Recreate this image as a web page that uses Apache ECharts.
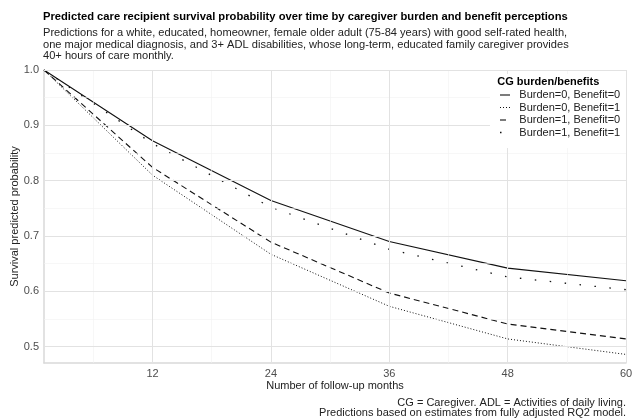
<!DOCTYPE html>
<html>
<head>
<meta charset="utf-8">
<script src="https://cdn.jsdelivr.net/npm/echarts@6/dist/echarts.min.js"></script>
<style>
  html, body { margin: 0; padding: 0; background: #fff; }
  #chart { width: 632px; height: 420px; }
</style>
</head>
<body>
<div id="chart"></div>
<script>
// follow-up months and predicted survival per group
const months = [1, 12, 24, 36, 48, 60];
const burden0Benefit0 = [1.0, 0.872, 0.764, 0.690, 0.642, 0.619];
const burden0Benefit1 = [1.0, 0.810, 0.667, 0.573, 0.514, 0.486];
const burden1Benefit0 = [1.0, 0.824, 0.689, 0.597, 0.541, 0.514];
const burden1Benefit1 = [1.0, 0.867, 0.752, 0.676, 0.626, 0.603];

const groupNames = ["Burden=0, Benefit=0", "Burden=0, Benefit=1", "Burden=1, Benefit=0", "Burden=1, Benefit=1"];

// tick labels and grid positions
const xTicks = [12, 24, 36, 48, 60];
const xMinor = [6, 18, 30, 42, 54];
const yTicks = [0.5, 0.6, 0.7, 0.8, 0.9, 1.0];
const yMinor = [0.55, 0.65, 0.75, 0.85, 0.95];

const font = "Liberation Sans, Arial, sans-serif";
const chart = echarts.init(document.getElementById("chart"));

const pairs = (ys) => months.map((m, i) => [m, ys[i]]);

const lineStyles = [
  { type: "solid", width: 1.1 },
  { type: [1, 2], width: 1 },
  { type: [6, 4], width: 1.1 },
  { type: [1.5, 13.5], width: 1.3 },
];
const seriesData = [burden0Benefit0, burden0Benefit1, burden1Benefit0, burden1Benefit1];

const majorGrid = { color: "#e2e2e2", width: 1, type: "solid" };
const minorGrid = { color: "#f1f1f1", width: 0.6, type: "solid" };

// legend box drawn by hand (white panel over the grid)
const legendX = 490, legendY = 74, legendW = 136, legendH = 74;
const rowY0 = 95, rowStep = 12.5;
const legendItems = [];
groupNames.forEach((name, i) => {
  const y = rowY0 + i * rowStep;
  const st = lineStyles[i];
  legendItems.push({
    type: "line",
    z: 60,
    shape: { x1: 500, y1: y, x2: 510, y2: y },
    style: {
      stroke: "#111",
      lineWidth: st.width,
      lineDash: st.type === "solid" ? null : st.type,
    },
  });
  legendItems.push({
    type: "text",
    x: 519.3,
    y: y,
    z: 60,
    style: { text: name, font: "11px " + font, fill: "#222", verticalAlign: "middle" },
  });
});

const option = {
  animation: false,
  backgroundColor: "#fff",
  textStyle: { fontFamily: font },
  grid: { left: 44, right: 6, top: 70, bottom: 57, containLabel: false, outerBoundsMode: "none" },
  xAxis: {
    type: "value",
    min: 1,
    max: 60,
    name: "Number of follow-up months",
    nameLocation: "middle",
    nameGap: 17.5,
    nameMoveOverlap: false,
    nameTextStyle: { fontFamily: font, fontSize: 11, color: "#222" },
    axisLine: { show: true, lineStyle: { color: "#d9d9d9", width: 1.5 } },
    axisTick: { show: false },
    splitLine: { show: false },
    axisLabel: {
      customValues: xTicks,
      margin: 5,
      fontFamily: font,
      fontSize: 11,
      color: "#4d4d4d",
    },
  },
  yAxis: {
    type: "value",
    min: 0.4705,
    max: 1.0,
    name: "Survival predicted probability",
    nameLocation: "middle",
    nameGap: 24,
    nameMoveOverlap: false,
    nameTextStyle: { fontFamily: font, fontSize: 11, color: "#222" },
    axisLine: { show: true, lineStyle: { color: "#d9d9d9", width: 1.5 } },
    axisTick: { show: false },
    splitLine: { show: false },
    axisLabel: {
      customValues: yTicks,
      margin: 5,
      fontFamily: font,
      fontSize: 11,
      color: "#4d4d4d",
      formatter: (v) => v.toFixed(1),
    },
  },
  graphic: [
    {
      type: "text",
      x: 43,
      y: 16.7,
      style: {
        text: "Predicted care recipient survival probability over time by caregiver burden and benefit perceptions",
        font: "bold 11.2px " + font,
        fill: "#000",
        verticalAlign: "middle",
      },
    },
    {
      type: "text",
      x: 43,
      y: 44.8,
      style: {
        text: "Predictions for a white, educated, homeowner, female older adult (75-84 years) with good self-rated health,\none major medical diagnosis, and 3+ ADL disabilities, whose long-term, educated family caregiver provides\n40+ hours of care monthly.",
        font: "11.1px " + font,
        fill: "#222",
        lineHeight: 11.5,
        verticalAlign: "middle",
      },
    },
    {
      type: "rect",
      z: 50,
      shape: { x: legendX, y: legendY, width: legendW, height: legendH },
      style: { fill: "#fff" },
    },
    {
      type: "text",
      x: 497.3,
      y: 81.7,
      z: 60,
      style: { text: "CG burden/benefits", font: "bold 11px " + font, fill: "#000", verticalAlign: "middle" },
    },
    ...legendItems,
    {
      type: "text",
      x: 626,
      y: 408,
      style: {
        text: "CG = Caregiver. ADL = Activities of daily living.\nPredictions based on estimates from fully adjusted RQ2 model.",
        font: "11px " + font,
        fill: "#222",
        align: "right",
        verticalAlign: "middle",
        lineHeight: 10.7,
      },
    },
  ],
  series: [
    // background grid drawn as mark lines
    {
      name: "grid",
      type: "line",
      data: [],
      silent: true,
      z: 0,
      markLine: {
        silent: true,
        symbol: "none",
        label: { show: false },
        animation: false,
        data: [
          ...xMinor.map((v) => ({ xAxis: v, lineStyle: minorGrid })),
          ...yMinor.map((v) => ({ yAxis: v, lineStyle: minorGrid })),
          ...xTicks.map((v) => ({ xAxis: v, lineStyle: majorGrid })),
          ...yTicks.map((v) => ({ yAxis: v, lineStyle: majorGrid })),
        ],
      },
    },
    ...groupNames.map((name, i) => ({
      name: name,
      type: "line",
      data: pairs(seriesData[i]),
      symbol: "none",
      z: 3,
      color: "#111",
      lineStyle: Object.assign({ color: "#111" }, lineStyles[i]),
    })),
  ],
};

chart.setOption(option);
</script>
</body>
</html>
